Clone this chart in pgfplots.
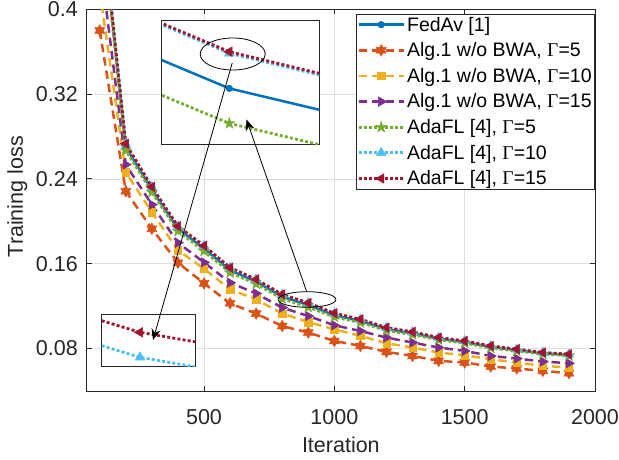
\documentclass[border=0pt]{standalone}
\usepackage{fontspec}
\setmainfont{Liberation Sans}
\newfontfamily\serif{Liberation Serif}
\usepackage{pgfplots}
\pgfplotsset{compat=1.18}
\usepackage{pgfplotstable}
\usetikzlibrary{arrows.meta}

\definecolor{mblue}{rgb}{0,0.447,0.741}
\definecolor{morange}{rgb}{0.85,0.325,0.098}
\definecolor{myellow}{rgb}{0.929,0.694,0.125}
\definecolor{mpurple}{rgb}{0.494,0.184,0.556}
\definecolor{mgreen}{rgb}{0.466,0.674,0.188}
\definecolor{mcyan}{rgb}{0.301,0.745,0.933}
\definecolor{mred}{rgb}{0.635,0.078,0.184}
\definecolor{axgray}{rgb}{0.15,0.15,0.15}
\definecolor{gridgray}{rgb}{0.875,0.875,0.875}

\pgfdeclareplotmark{pentagram}{%
  \pgfpathmoveto{\pgfpointpolar{90}{\pgfplotmarksize}}%
  \pgfpathlineto{\pgfpointpolar{126}{0.382\pgfplotmarksize}}%
  \pgfpathlineto{\pgfpointpolar{162}{\pgfplotmarksize}}%
  \pgfpathlineto{\pgfpointpolar{198}{0.382\pgfplotmarksize}}%
  \pgfpathlineto{\pgfpointpolar{234}{\pgfplotmarksize}}%
  \pgfpathlineto{\pgfpointpolar{270}{0.382\pgfplotmarksize}}%
  \pgfpathlineto{\pgfpointpolar{306}{\pgfplotmarksize}}%
  \pgfpathlineto{\pgfpointpolar{342}{0.382\pgfplotmarksize}}%
  \pgfpathlineto{\pgfpointpolar{18}{\pgfplotmarksize}}%
  \pgfpathlineto{\pgfpointpolar{54}{0.382\pgfplotmarksize}}%
  \pgfpathclose
  \pgfusepathqfillstroke}
\pgfdeclareplotmark{hexagram}{%
  \pgfpathmoveto{\pgfpointpolar{90}{\pgfplotmarksize}}%
  \pgfpathlineto{\pgfpointpolar{120}{0.577\pgfplotmarksize}}%
  \pgfpathlineto{\pgfpointpolar{150}{\pgfplotmarksize}}%
  \pgfpathlineto{\pgfpointpolar{180}{0.577\pgfplotmarksize}}%
  \pgfpathlineto{\pgfpointpolar{210}{\pgfplotmarksize}}%
  \pgfpathlineto{\pgfpointpolar{240}{0.577\pgfplotmarksize}}%
  \pgfpathlineto{\pgfpointpolar{270}{\pgfplotmarksize}}%
  \pgfpathlineto{\pgfpointpolar{300}{0.577\pgfplotmarksize}}%
  \pgfpathlineto{\pgfpointpolar{330}{\pgfplotmarksize}}%
  \pgfpathlineto{\pgfpointpolar{0}{0.577\pgfplotmarksize}}%
  \pgfpathlineto{\pgfpointpolar{30}{\pgfplotmarksize}}%
  \pgfpathlineto{\pgfpointpolar{60}{0.577\pgfplotmarksize}}%
  \pgfpathclose
  \pgfusepathqfillstroke}

\pgfplotstableread{
x    fedav  alg5   alg10  alg15  ada5   ada10   ada15
100  0.5010 0.3800 0.4170 0.4490 0.4980 0.50491 0.5050
200  0.2700 0.2284 0.2462 0.2535 0.2670 0.27311 0.2732
300  0.2298 0.1930 0.2086 0.2158 0.2274 0.23241 0.2325
400  0.1930 0.1610 0.1728 0.1798 0.1907 0.19531 0.1954
500  0.1744 0.1415 0.1553 0.1613 0.1720 0.17691 0.1770
600  0.1538 0.1227 0.1359 0.1422 0.1516 0.15621 0.1563
700  0.1431 0.1130 0.1264 0.1320 0.1410 0.14521 0.1453
800  0.1290 0.1013 0.1130 0.1186 0.1270 0.13101 0.1311
900  0.1210 0.0951 0.1050 0.1107 0.1190 0.12291 0.1230
1000 0.1115 0.0872 0.0982 0.1020 0.1098 0.11321 0.1133
1100 0.1060 0.0825 0.0919 0.0966 0.1045 0.10751 0.1076
1200 0.0984 0.0769 0.0851 0.0904 0.0970 0.09971 0.0998
1300 0.0944 0.0731 0.0810 0.0857 0.0932 0.09561 0.0957
1400 0.0893 0.0684 0.0763 0.0810 0.0882 0.09031 0.0904
1500 0.0862 0.0669 0.0737 0.0778 0.0852 0.08711 0.0872
1600 0.0815 0.0631 0.0700 0.0731 0.0806 0.08241 0.0825
1700 0.0785 0.0612 0.0669 0.0706 0.0777 0.07931 0.0794
1800 0.0755 0.0590 0.0637 0.0678 0.0748 0.07621 0.0763
1900 0.0740 0.0568 0.0622 0.0662 0.0733 0.07461 0.0747
}\lossdata

% zoom around the AdaFL markers at iteration 800:
% x = iteration - 800, y = (loss - 0.1311) * 1e5
\pgfplotstableread{
x      red    cyan
-0.294  4.18  -4.82
0       0.00  -9.00
0.423  -3.43 -12.43
}\zoomdata

\pgfplotsset{
  lwbase/.style={line width=2.5pt},
  dashM/.style={dash pattern=on 8.5pt off 5pt},
  dotM/.style={line width=2.8pt, dash pattern=on 3pt off 2.2pt},
  sFed/.style={lwbase, color=mblue, solid, mark=*, mark size=3.3pt, mark options={solid, fill=mblue, line width=0.5pt}},
  sA5/.style={lwbase, color=morange, dashM, mark=hexagram, mark size=5.8pt, mark options={solid, fill=morange, line width=0.5pt}},
  sA10/.style={lwbase, color=myellow, dashM, mark=square*, mark size=3.7pt, mark options={solid, fill=myellow, line width=0.5pt}},
  sA15/.style={lwbase, color=mpurple, dashM, mark=triangle*, mark size=5.5pt, mark options={solid, fill=mpurple, rotate=-90, line width=0.5pt}},
  sD5/.style={lwbase, color=mgreen, dotM, mark=pentagram, mark size=5.8pt, mark options={solid, fill=mgreen, line width=0.5pt}},
  sD10/.style={lwbase, color=mcyan, dotM, mark=triangle*, mark size=5.5pt, mark options={solid, fill=mcyan, line width=0.5pt}},
  sD15/.style={lwbase, color=mred, dotM, mark=triangle*, mark size=5.5pt, mark options={solid, fill=mred, rotate=90, line width=0.5pt}},
  insetbox/.style={scale only axis, anchor=south west, xtick=\empty, ytick=\empty,
    axis line style={line width=1pt, color=axgray}, axis background/.style={fill=white}},
  zline/.style={restrict x to domain=600:1000, mark=none},
  zmark/.style={restrict x to domain=790:810, only marks},
}

\begin{document}
\begin{tikzpicture}
\useasboundingbox (0,0) rectangle (619pt,459pt);

\begin{axis}[
  at={(86.7pt,68pt)}, anchor=south west, scale only axis,
  width=508.3pt, height=381.7pt,
  xmin=50, xmax=2000, ymin=0.04, ymax=0.4,
  xtick={500,1000,1500,2000}, xticklabels={500,1000,1500,2000},
  ytick={0.08,0.16,0.24,0.32,0.4}, yticklabels={0.08,0.16,0.24,0.32,0.4},
  /pgf/number format/assume math mode=true,
  grid=major, major grid style={line width=0.8pt, color=gridgray},
  axis line style={line width=1pt, color=axgray},
  tick style={line width=1pt, color=axgray}, tick align=inside, major tick length=5pt,
  ticklabel style={font=\fontsize{21.5}{25}\selectfont, color=axgray, inner sep=0pt},
  xticklabel style={anchor=base, yshift=-33pt},
  yticklabel style={anchor=east, xshift=-8.7pt},
  label style={font=\fontsize{21.5}{25}\selectfont, color=axgray, inner sep=0pt},
  xlabel={Iteration}, ylabel={Training loss},
  xlabel style={at={(axis description cs:0.5,-0.1617)}, anchor=base},
  ylabel style={at={(axis description cs:-0.1257,0.509)}, anchor=base},
  legend style={at={(rel axis cs:1,1)}, anchor=north east, yshift=-4.2pt,
    draw=axgray, line width=0.8pt, fill=white, inner sep=1pt,
    font=\fontsize{19.5}{23}\selectfont, row sep=6pt, nodes={inner sep=2pt}},
  legend cell align=left,
  legend image code/.code={\draw[mark repeat=2,mark phase=2,#1] plot coordinates {(0pt,0pt) (22.5pt,0pt) (45pt,0pt)};},
]
\addplot[sFed] table[x=x,y=fedav]{\lossdata};
\addlegendentry{FedAv [1]}
\addplot[sA5] table[x=x,y=alg5]{\lossdata};
\addlegendentry{Alg.1 w/o BWA, {\serif Γ}=5}
\addplot[sA10] table[x=x,y=alg10]{\lossdata};
\addlegendentry{Alg.1 w/o BWA, {\serif Γ}=10}
\addplot[sA15] table[x=x,y=alg15]{\lossdata};
\addlegendentry{Alg.1 w/o BWA, {\serif Γ}=15}
\addplot[sD5] table[x=x,y=ada5]{\lossdata};
\addlegendentry{AdaFL [4], {\serif Γ}=5}
\addplot[sD10] table[x=x,y=ada10]{\lossdata};
\addlegendentry{AdaFL [4], {\serif Γ}=10}
\addplot[sD15] table[x=x,y=ada15]{\lossdata};
\addlegendentry{AdaFL [4], {\serif Γ}=15}
\end{axis}

% upper inset: magnified view around iteration 800
\begin{axis}[insetbox, at={(161.7pt,314.7pt)}, width=157.6pt, height=123.3pt,
  xmin=788.5, xmax=815.3, ymin=0.1258, ymax=0.13286]
\addplot[sFed, zline] table[x=x,y=fedav]{\lossdata};
\addplot[sFed, zmark] table[x=x,y=fedav]{\lossdata};
\addplot[sD5, zline] table[x=x,y=ada5]{\lossdata};
\addplot[sD5, zmark] table[x=x,y=ada5]{\lossdata};
\addplot[sD10, zline] table[x=x,y=ada10]{\lossdata};
\addplot[sD10, zmark] table[x=x,y=ada10]{\lossdata};
\addplot[sD15, zline] table[x=x,y=ada15]{\lossdata};
\addplot[sD15, zmark] table[x=x,y=ada15]{\lossdata};
\end{axis}

% lower inset: stronger magnification of AdaFL Gamma=15 vs Gamma=10
\begin{axis}[insetbox, at={(101.7pt,93pt)}, width=93.3pt, height=51.7pt,
  xmin=-0.294, xmax=0.423, ymin=-12.13, ymax=6.48]
\addplot[sD10, mark indices={2}] table[x=x,y=cyan]{\zoomdata};
\addplot[sD15, mark indices={2}] table[x=x,y=red]{\zoomdata};
\end{axis}

\draw[line width=0.8pt] (307pt,159.5pt) ellipse [x radius=28.9pt, y radius=7.8pt];
\draw[line width=0.8pt] (232.7pt,405pt) ellipse [x radius=32.5pt, y radius=16pt];
\draw[line width=0.8pt, -{Stealth[length=11pt,width=9pt]}] (232.3pt,396.3pt) -- (153pt,119pt);
\draw[line width=0.8pt, -{Stealth[length=11pt,width=9pt]}] (306.7pt,167.3pt) -- (246.5pt,339.5pt);
\end{tikzpicture}
\end{document}
